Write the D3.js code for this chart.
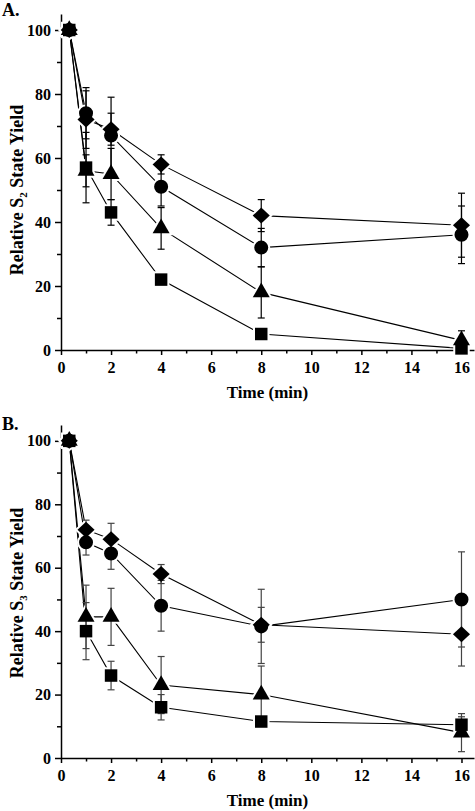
<!DOCTYPE html>
<html>
<head>
<meta charset="utf-8">
<script src="https://cdn.jsdelivr.net/npm/d3@7"></script>
<style>
  html, body { margin: 0; padding: 0; background: #fff; }
  svg { display: block; }
  text { font-family: "Liberation Serif", "Times New Roman", serif; font-weight: bold; fill: #000; }
</style>
</head>
<body>
<script>
// ---------------- data ----------------
const times = [0.33, 1, 2, 4, 8, 16];
const xTicks = [0, 2, 4, 6, 8, 10, 12, 14, 16];
const xMinorTicks = [1, 3, 5, 7, 9, 11, 13, 15];
const yTicks = [0, 20, 40, 60, 80, 100];
const yMinorTicks = [10, 30, 50, 70, 90];

// Panel A (S2 state)
const aSquare      = [100, 57, 43, 22, 5, 0.5];
const aSquareErr   = [0, 11, 4, 1.5, 1.5, 0.5];
const aTriangle    = [100, 56, 55, 38, 18, 3];
const aTriangleErr = [0, 5, 8, 6.5, 8, 3];
const aCircle      = [100, 74, 67, 51, 32, 36];
const aCircleErr   = [0, 8, 12, 6, 6, 9];
const aDiamond     = [100, 72, 69, 58, 42, 39];
const aDiamondErr  = [0, 9, 5, 3, 5, 10];

// Panel B (S3 state)
const bSquare      = [100, 40, 26, 16, 11.5, 10.5];
const bSquareErr   = [0, 9, 4.5, 4, 1.5, 2.5];
const bTriangle    = [100, 44.5, 44.5, 23, 20, 8];
const bTriangleErr = [0, 10, 9, 9, 9, 6];
const bCircle      = [100, 68, 64.5, 48, 41.5, 50];
const bCircleErr   = [0, 4, 5, 8, 11.7, 15];
const bDiamond     = [100, 72, 69, 58, 42, 39];
const bDiamondErr  = [0, 3, 5, 3, 5.5, 10];

// ---------------- drawing ----------------
const W = 475, H = 811;
const svg = d3.select("body").append("svg").attr("width", W).attr("height", H);
svg.append("rect").attr("width", W).attr("height", H).attr("fill", "#fff");

const x = d3.scaleLinear().domain([0, 16.5]).range([61, 474]);

const diamondType = {
  draw(ctx, size) {
    const w = Math.sqrt(size) * 0.62, h = Math.sqrt(size) * 0.58;
    ctx.moveTo(0, -h); ctx.lineTo(w, 0); ctx.lineTo(0, h); ctx.lineTo(-w, 0); ctx.closePath();
  }
};
const shapes = {
  square:   d3.symbol().type(d3.symbolSquare).size(156),
  triangle: d3.symbol().type(d3.symbolTriangle).size(125),
  circle:   d3.symbol().type(d3.symbolCircle).size(154),
  diamond:  d3.symbol().type(diamondType).size(190)
};

function drawPanel(cfg) {
  const y = d3.scaleLinear().domain([0, 105]).range([cfg.y0, cfg.yTop]);
  const g = svg.append("g");

  // axes
  const yAxis = g.append("g").attr("transform", `translate(${x(0)},0)`)
    .call(d3.axisLeft(y).tickValues(yTicks).tickSize(6).tickSizeOuter(0).tickPadding(4));
  const yMinor = g.append("g").attr("transform", `translate(${x(0)},0)`)
    .call(d3.axisLeft(y).tickValues(yMinorTicks).tickSize(4).tickSizeOuter(0).tickFormat(""));
  yMinor.select(".domain").remove();
  const xAxis = g.append("g").attr("transform", `translate(0,${y(0)})`)
    .call(d3.axisBottom(x).tickValues(xTicks).tickSize(5).tickSizeOuter(0).tickPadding(7));
  const xMinor = g.append("g").attr("transform", `translate(0,${y(0)})`)
    .call(d3.axisBottom(x).tickValues(xMinorTicks).tickSize(3.5).tickSizeOuter(0).tickFormat(""));
  xMinor.select(".domain").remove();
  [yAxis, yMinor, xAxis, xMinor].forEach(a => {
    a.selectAll("path,line").attr("stroke", "#000").attr("stroke-width", 1.5);
    a.selectAll("text").attr("font-size", 16).attr("font-family", "Liberation Serif, serif").attr("font-weight", "bold");
  });

  const line = d3.line().x(d => x(d.t)).y(d => y(d.v));
  const seriesData = cfg.series.map(s => ({
    shape: s.shape,
    pts: times.map((t, i) => ({ t, v: s.vals[i], e: s.errs[i] }))
  }));

  // connecting lines
  g.selectAll(".ln").data(seriesData).join("path")
    .attr("d", s => line(s.pts)).attr("fill", "none").attr("stroke", "#000").attr("stroke-width", 1.1);

  // halos (gap between lines and markers)
  seriesData.forEach(s => {
    g.selectAll(null).data(s.pts).join("path")
      .attr("transform", d => `translate(${x(d.t)},${y(d.v)})`)
      .attr("d", shapes[s.shape]()).attr("fill", "#fff").attr("stroke", "#fff").attr("stroke-width", 4);
  });

  // error bars
  const capW = 3.5;
  seriesData.forEach(s => {
    const eb = g.selectAll(null).data(s.pts.filter(d => d.e > 0)).join("g")
      .attr("stroke", cfg.errColor).attr("stroke-width", 1.2);
    eb.append("line").attr("x1", d => x(d.t)).attr("x2", d => x(d.t))
      .attr("y1", d => y(d.v + d.e)).attr("y2", d => y(d.v - d.e));
    eb.append("line").attr("x1", d => x(d.t) - capW).attr("x2", d => x(d.t) + capW)
      .attr("y1", d => y(d.v + d.e)).attr("y2", d => y(d.v + d.e));
    eb.append("line").attr("x1", d => x(d.t) - capW).attr("x2", d => x(d.t) + capW)
      .attr("y1", d => y(d.v - d.e)).attr("y2", d => y(d.v - d.e));
  });

  // markers
  seriesData.forEach(s => {
    g.selectAll(null).data(s.pts).join("path")
      .attr("transform", d => `translate(${x(d.t)},${y(d.v)})`)
      .attr("d", shapes[s.shape]()).attr("fill", "#000");
  });

  // labels
  g.append("text").attr("x", 2).attr("y", cfg.labelY).attr("font-size", 18).text(cfg.label);
  g.append("text").attr("x", (x(0) + x(16.5)) / 2).attr("y", cfg.y0 + 48)
    .attr("text-anchor", "middle").attr("font-size", 17).text("Time (min)");
  const yt = g.append("text").attr("transform", `translate(23,${cfg.titleY}) rotate(-90)`)
    .attr("text-anchor", "middle").attr("font-size", 18);
  yt.append("tspan").text("Relative S");
  yt.append("tspan").attr("font-size", 11).attr("dy", 4).text(cfg.sub);
  yt.append("tspan").attr("dy", -4).text(" State Yield");
}

drawPanel({
  y0: 350, yTop: 14, label: "A.", labelY: 16, titleY: 190, sub: "2", errColor: "#000",
  series: [
    { shape: "square", vals: aSquare, errs: aSquareErr },
    { shape: "triangle", vals: aTriangle, errs: aTriangleErr },
    { shape: "circle", vals: aCircle, errs: aCircleErr },
    { shape: "diamond", vals: aDiamond, errs: aDiamondErr }
  ]
});
drawPanel({
  y0: 758, yTop: 425, label: "B.", labelY: 430, titleY: 593, sub: "3", errColor: "#444",
  series: [
    { shape: "square", vals: bSquare, errs: bSquareErr },
    { shape: "triangle", vals: bTriangle, errs: bTriangleErr },
    { shape: "circle", vals: bCircle, errs: bCircleErr },
    { shape: "diamond", vals: bDiamond, errs: bDiamondErr }
  ]
});
</script>
</body>
</html>
